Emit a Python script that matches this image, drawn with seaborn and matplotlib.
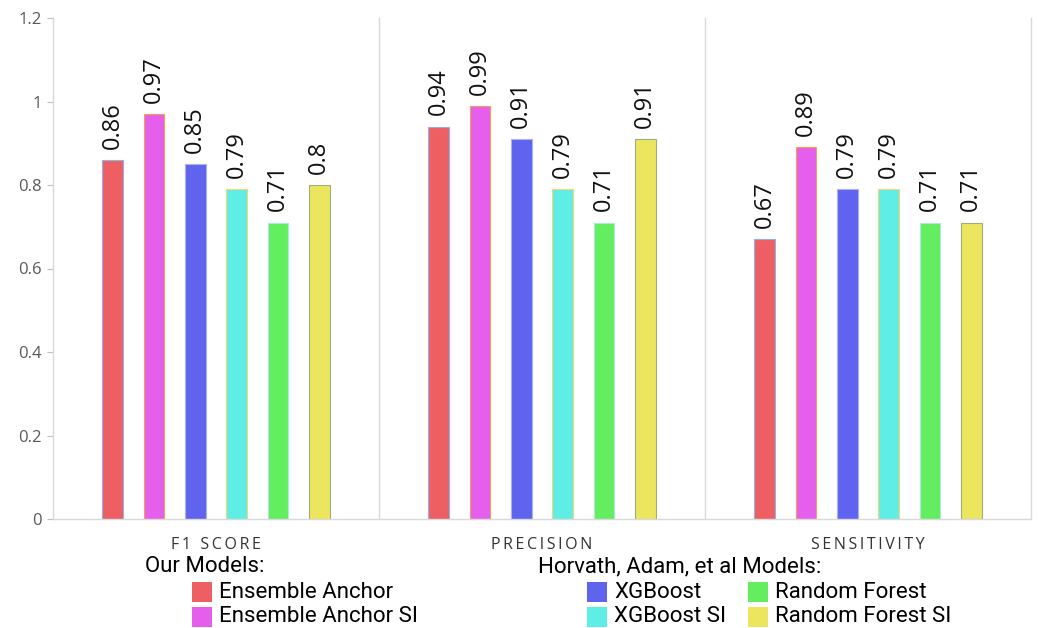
import numpy as np
import pandas as pd
import matplotlib
matplotlib.use("Agg")
import matplotlib.pyplot as plt
from matplotlib.patches import Rectangle
import seaborn as sns

# ---- data -------------------------------------------------------------
metrics = ["F1 SCORE", "PRECISION", "SENSITIVITY"]
models = ["Ensemble Anchor", "Ensemble Anchor SI", "XGBoost",
          "XGBoost SI", "Random Forest", "Random Forest SI"]

ensemble_anchor = [0.86, 0.94, 0.67]
ensemble_anchor_si = [0.97, 0.99, 0.89]
xgboost = [0.85, 0.91, 0.79]
xgboost_si = [0.79, 0.79, 0.79]
random_forest = [0.71, 0.71, 0.71]
random_forest_si = [0.80, 0.91, 0.71]

y_ticks = [0, 0.2, 0.4, 0.6, 0.8, 1.0, 1.2]
y_tick_labels = ["0", "0.2", "0.4", "0.6", "0.8", "1", "1.2"]

# ---- styling ----------------------------------------------------------
colors = ["#EE5F63", "#E65FEC", "#5F63EE", "#5FEEE6", "#63EE5F", "#ECE65F"]
edges = ["#8FB4E3", "#F0A050", "#A8B4F0", "#F5D76E", "#B0E8E0", "#9AAE80"]
grid_grey = "#D9D9D9"

sns.set_theme(style="white")
plt.rcParams["font.family"] = ["Open Sans", "DejaVu Sans"]

series = [ensemble_anchor, ensemble_anchor_si, xgboost,
          xgboost_si, random_forest, random_forest_si]
df = pd.DataFrame({
    "metric": np.repeat([metrics], len(models), axis=0).ravel(),
    "model": np.repeat(models, len(metrics)),
    "score": np.concatenate(series),
})

W, H = 1038, 628
fig = plt.figure(figsize=(W / 100, H / 100), dpi=100)
ax = fig.add_axes([53 / W, 1 - 519 / H, (1031 - 53) / W, (519 - 18) / H])

sns.barplot(data=df, x="metric", y="score", hue="model",
            order=metrics, hue_order=models, palette=colors,
            saturation=1, width=0.76, gap=0.5, errorbar=None,
            legend=False, linewidth=0.8, ax=ax)

for cont, vals, ec in zip(ax.containers, series, edges):
    for bar in cont:
        bar.set_edgecolor(ec)
    ax.bar_label(cont, labels=[f"{v:g}" for v in vals], rotation=90,
                 padding=8, fontsize=17, color="#111111")

ax.set_xlim(-0.5, 2.5)
ax.set_ylim(0, 1.2)
ax.set_yticks(y_ticks)
ax.set_yticklabels(y_tick_labels)
ax.set_xlabel("")
ax.set_ylabel("")

spaced = ["\u2009".join(list(m)) for m in metrics]
ax.set_xticks(range(len(metrics)))
ax.set_xticklabels(spaced, fontsize=11.5, color="#333333")
ax.tick_params(axis="x", length=0, pad=13)
ax.tick_params(axis="y", length=4, width=0.8, color="#BFBFBF",
               labelsize=12, labelcolor="#595959", pad=4, left=True)

ax.spines["top"].set_visible(False)
for side in ["left", "bottom", "right"]:
    ax.spines[side].set_visible(True)
    ax.spines[side].set_color(grid_grey)
    ax.spines[side].set_linewidth(1.0)
for xsep in [0.5, 1.5]:
    ax.axvline(xsep, color=grid_grey, lw=1.0, zorder=0)

# ---- legend -----------------------------------------------------------
def px(x, y):
    return x / W, 1 - y / H

leg_font = dict(family=["Roboto", "DejaVu Sans"], fontsize=16,
                color="black", va="center", ha="left")

fig.text(*px(145, 567), "Our Models:", **leg_font)
fig.text(*px(538, 567), "Horvath, Adam, et al Models:", **leg_font)

entries = [
    (192, 592, 0), (192, 617, 1),
    (587, 592, 2), (587, 617, 3),
    (748, 592, 4), (748, 617, 5),
]
for x, y, i in entries:
    fx, fy = px(x, y + 10)
    fig.patches.append(Rectangle((fx, fy), 20 / W, 20 / H,
                                 transform=fig.transFigure,
                                 facecolor=colors[i], edgecolor="none"))
    fig.text(*px(x + 27, y), models[i], **leg_font)

fig.savefig("out.png", dpi=100, facecolor="white")
